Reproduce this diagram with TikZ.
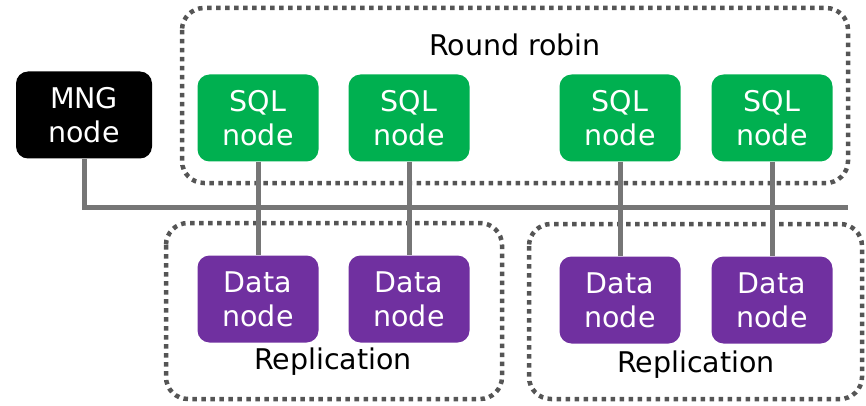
\documentclass[tikz,border=0pt]{standalone}
\usepackage{fontspec}
\setmainfont{DejaVu Sans}
\definecolor{sqlgreen}{HTML}{00B050}
\definecolor{datapurple}{HTML}{7030A0}
\definecolor{linegray}{HTML}{767676}
\definecolor{dotgray}{HTML}{555555}
\begin{document}
\begin{tikzpicture}[x=1pt,y=-1pt,
  box/.style={rounded corners=12pt, minimum width=121pt, minimum height=87pt, text=white, align=center, font=\fontsize{28.5}{34}\selectfont, inner sep=0pt},
  mngbox/.style={box, fill=black, minimum width=136pt},
  sqlbox/.style={box, fill=sqlgreen},
  databox/.style={box, fill=datapurple},
  group/.style={draw=dotgray, line width=4.5pt, dash pattern=on 4.5pt off 4.5pt, rounded corners=22pt},
  link/.style={draw=linegray, line width=5pt},
  label/.style={font=\fontsize{28.5}{34}\selectfont}]
\useasboundingbox (0,0) rectangle (866,406);
% groups
\draw[group] (182,8) rectangle (848,183);
\draw[group] (166,223) rectangle (502,399);
\draw[group] (529,224) rectangle (862,399);
\node[label] (rr) at (515,45) {Round robin};
\node[label] (rep1) at (333,362) {Replication};
\node[label] (rep2) at (696,365) {Replication};
% nodes
\node[mngbox] (mng) at (84,115) {MNG\\node};
\node[sqlbox] (sql1) at (258,118) {SQL\\node};
\node[sqlbox] (sql2) at (409,118) {SQL\\node};
\node[sqlbox] (sql3) at (620,118) {SQL\\node};
\node[sqlbox] (sql4) at (772,118) {SQL\\node};
\node[databox] (data1) at (258,299) {Data\\node};
\node[databox] (data2) at (409,299) {Data\\node};
\node[databox] (data3) at (620,300) {Data\\node};
\node[databox] (data4) at (772,300) {Data\\node};
% bus
\coordinate (busR) at (848,207);
\draw[link] (mng.south) |- (busR);
\foreach \i in {1,...,4}
  \draw[link] (sql\i.south) -- (data\i.north);
\end{tikzpicture}
\end{document}
